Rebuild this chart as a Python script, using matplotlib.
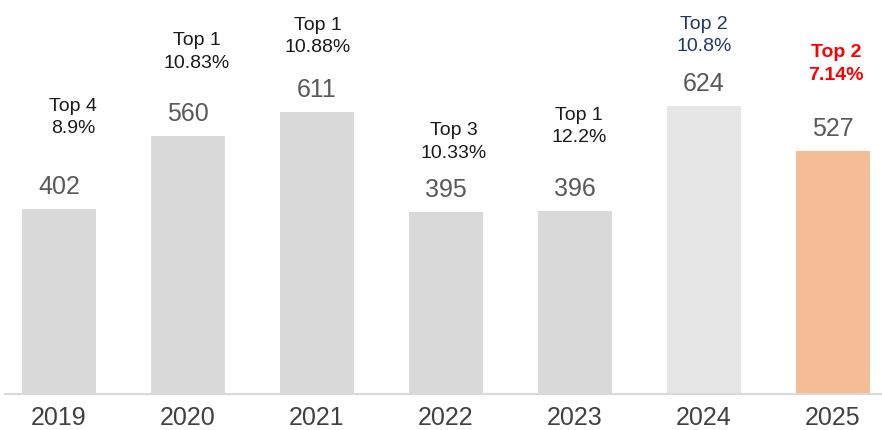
import matplotlib
matplotlib.use("Agg")
import matplotlib.pyplot as plt

plt.rcParams['font.family'] = ['Liberation Sans', 'DejaVu Sans']

years = ["2019", "2020", "2021", "2022", "2023", "2024", "2025"]
counts = [402, 560, 611, 395, 396, 624, 527]
ranks = ["Top 4", "Top 1", "Top 1", "Top 3", "Top 1", "Top 2", "Top 2"]
shares = ["8.9%", "10.83%", "10.88%", "10.33%", "12.2%", "10.8%", "7.14%"]

bar_colors = ["#D9D9D9"] * 5 + ["#E6E6E6", "#F4BD96"]
note_colors = ["#1A1A1A"] * 5 + ["#203864", "#FF0000"]
note_weights = ["normal"] * 6 + ["bold"]
# pixel offsets of the rank/share notes from each bar top
note_dx = [14, 9, 1, 8, 4, 0, 3]
note_dy = [92, 85, 77, 71, 86, 72, 88]

fig = plt.figure(figsize=(8.82, 4.31), dpi=100)
ax = fig.add_axes([5 / 882, 36 / 431, 877 / 882, 395 / 431])

x = range(len(years))
ax.bar(x, counts, width=0.57, color=bar_colors, zorder=2)

ax.set_xlim(-0.419, 6.38)
ax.set_ylim(0, 857)

for i, v in enumerate(counts):
    ax.annotate(str(v), xy=(i, v), xytext=(0, 23), textcoords="offset pixels",
                ha="center", va="center", fontsize=18, color="#595959")
    ax.annotate(f"{ranks[i]}\n{shares[i]}", xy=(i, v),
                xytext=(note_dx[i], note_dy[i]), textcoords="offset pixels",
                ha="center", va="center", fontsize=14, color=note_colors[i],
                fontweight=note_weights[i], linespacing=1.42)

ax.set_xticks(list(x))
ax.set_xticklabels(years, fontsize=18, color="#404040")
ax.tick_params(axis="x", length=0, pad=8)
ax.set_yticks([])
for side in ["top", "right", "left"]:
    ax.spines[side].set_visible(False)
ax.spines["bottom"].set_color("#D9D9D9")
ax.spines["bottom"].set_linewidth(1.5)

fig.savefig("out.png", dpi=100)
